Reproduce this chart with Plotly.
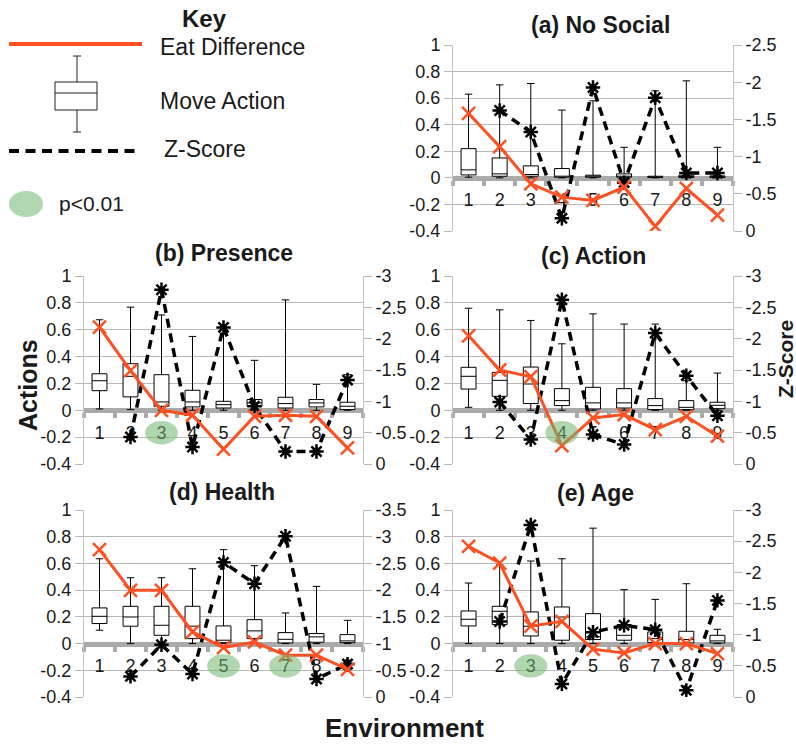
import plotly.graph_objects as go

W, H = 796, 745
FONT = "Liberation Sans, Arial, sans-serif"
TXT = "#1a1a1a"
ORANGE = "#ff5022"
GRID = "#b8b8b8"

# ---------------- data ----------------
cats = ["1", "2", "3", "4", "5", "6", "7", "8", "9"]
left_tickvals = [-0.4, -0.2, 0, 0.2, 0.4, 0.6, 0.8, 1]
left_ticktext = ["-0.4", "-0.2", "0", "0.2", "0.4", "0.6", "0.8", "1"]

# (a) No Social
eat_a = [0.485, 0.235, -0.045, -0.145, -0.17, -0.07, -0.365, -0.08, -0.28]
z_a = [None, -1.62, -1.33, -0.17, -1.93, -0.65, -1.79, -0.78, -0.78]
up_a = [0.63, 0.70, 0.71, 0.51, 0.58, 0.23, 0.655, 0.73, 0.23]
q3_a = [0.22, 0.15, 0.09, 0.07, 0.02, 0.03, 0.012, 0.02, 0.015]
med_a = [0.06, 0.03, 0.025, 0.01, 0.012, 0.012, 0.006, 0.008, 0.008]
q1_a = [0.022, 0.012, 0.012, 0.005, 0.005, 0.005, 0.003, 0.003, 0.003]
lo_a = [0.005, 0.0, 0.0, 0.0, 0.0, 0.0, 0.0, 0.0, 0.0]
sig_a = []

# (b) Presence
eat_b = [0.62, 0.295, 0.0, -0.037, -0.29, -0.045, -0.037, -0.045, -0.28]
z_b = [None, -0.43, -2.78, -0.27, -2.18, -0.92, -0.2, -0.2, -1.34]
up_b = [0.674, 0.768, 0.71, 0.55, 0.57, 0.372, 0.822, 0.193, 0.265]
q3_b = [0.272, 0.347, 0.265, 0.149, 0.067, 0.08, 0.097, 0.08, 0.06]
med_b = [0.22, 0.253, 0.062, 0.062, 0.042, 0.055, 0.05, 0.055, 0.03]
q1_b = [0.146, 0.1, 0.03, 0.025, 0.017, 0.03, 0.017, 0.025, 0.005]
lo_b = [0.01, 0.005, 0.0, 0.0, 0.0, 0.0, 0.0, 0.0, 0.0]
sig_b = ["3"]

# (c) Action
eat_c = [0.555, 0.30, 0.25, -0.263, -0.057, -0.032, -0.144, -0.045, -0.193]
z_c = [None, -0.99, -0.39, -2.62, -0.47, -0.31, -2.09, -1.41, -0.77]
up_c = [0.76, 0.748, 0.669, 0.495, 0.718, 0.642, 0.642, 0.22, 0.277]
q3_c = [0.32, 0.282, 0.322, 0.161, 0.171, 0.161, 0.087, 0.072, 0.06]
med_c = [0.253, 0.223, 0.196, 0.072, 0.055, 0.055, 0.035, 0.022, 0.037]
q1_c = [0.158, 0.104, 0.05, 0.035, 0.01, 0.017, 0.005, 0.005, 0.012]
lo_c = [0.022, 0.0, 0.0, 0.0, 0.0, 0.0, 0.0, 0.0, 0.0]
sig_c = ["4"]

# (d) Health
eat_d = [0.703, 0.399, 0.399, 0.087, -0.03, 0.012, -0.087, -0.087, -0.194]
z_d = [None, -0.386, -0.978, -0.43, -2.52, -2.12, -3.01, -0.336, -0.616]
up_d = [0.635, 0.493, 0.493, 0.56, 0.703, 0.583, 0.229, 0.428, 0.174]
q3_d = [0.267, 0.279, 0.279, 0.279, 0.132, 0.179, 0.082, 0.075, 0.067]
med_d = [0.204, 0.199, 0.137, 0.13, 0.025, 0.095, 0.032, 0.05, 0.02]
q1_d = [0.15, 0.13, 0.062, 0.037, 0.007, 0.037, 0.005, 0.01, 0.007]
lo_d = [0.1, 0.0, 0.0, 0.0, 0.0, 0.0, 0.0, 0.0, 0.0]
sig_d = ["5", "7"]

# (e) Age
eat_e = [0.728, 0.603, 0.13, 0.167, -0.042, -0.07, 0.0, 0.0, -0.075]
z_e = [None, -1.21, -2.76, -0.21, -1.04, -1.15, -1.08, -0.107, -1.55]
up_e = [0.453, 0.59, 0.618, 0.635, 0.864, 0.404, 0.331, 0.448, 0.107]
q3_e = [0.244, 0.279, 0.237, 0.274, 0.224, 0.137, 0.087, 0.092, 0.062]
med_e = [0.182, 0.242, 0.13, 0.199, 0.05, 0.062, 0.037, 0.03, 0.02]
q1_e = [0.132, 0.142, 0.057, 0.025, 0.03, 0.025, 0.007, 0.005, 0.005]
lo_e = [0.0, 0.0, 0.0, 0.0, 0.0, 0.0, 0.0, 0.0, 0.0]
sig_e = ["3"]

titles = ["(a) No Social", "(b) Presence", "(c) Action", "(d) Health", "(e) Age"]
z_axis_top = [-2.5, -3, -3, -3.5, -3]

# ---------------- layout geometry (pixels) ----------------
boxes_px = [(453, 733, 45, 231), (84, 363, 276, 464), (453, 733, 276, 464),
            (84, 363, 510, 697), (453, 733, 510, 697)]
title_pos = [(600, 25), (224, 253), (593, 256), (222, 492), (595, 493)]


def px(x):
    return x / W


def py(y):
    return 1 - y / H


panels = [
    (eat_a, z_a, up_a, q3_a, med_a, q1_a, lo_a, sig_a),
    (eat_b, z_b, up_b, q3_b, med_b, q1_b, lo_b, sig_b),
    (eat_c, z_c, up_c, q3_c, med_c, q1_c, lo_c, sig_c),
    (eat_d, z_d, up_d, q3_d, med_d, q1_d, lo_d, sig_d),
    (eat_e, z_e, up_e, q3_e, med_e, q1_e, lo_e, sig_e),
]

fig = go.Figure()
layout = {}
shapes = []
annotations = []
YMIN, YMAX = -0.4, 1.0


def axname(prefix, k):
    return prefix if k == 1 else f"{prefix}{k}"


for i, (eat, z, up, q3, med, q1, lo, sig) in enumerate(panels):
    xn = i + 1
    k1, k2, k3 = 3 * i + 1, 3 * i + 2, 3 * i + 3
    xr = axname("x", xn)
    y1, y2, y3 = axname("y", k1), axname("y", k2), axname("y", k3)
    l, r, t, b = boxes_px[i]
    dom_x = [px(l), px(r)]
    dom_y = [py(b), py(t)]
    zero_px = t + (YMAX - 0) / (YMAX - YMIN) * (b - t)

    fig.add_trace(go.Box(
        x=cats, q1=q1, median=med, q3=q3, lowerfence=lo, upperfence=up,
        xaxis=xr, yaxis=y1, fillcolor="white",
        line=dict(color="black", width=1), width=0.48, whiskerwidth=0.5,
        boxpoints=False, showlegend=False, hoverinfo="skip"))
    fig.add_trace(go.Scatter(
        x=cats, y=z, xaxis=xr, yaxis=y2, mode="lines+markers",
        line=dict(color="black", width=3.5, dash="9px,6px"),
        marker=dict(symbol="asterisk-open", size=12,
                    line=dict(color="black", width=2.5)),
        connectgaps=False, showlegend=False, hoverinfo="skip"))
    fig.add_trace(go.Scatter(
        x=cats, y=eat, xaxis=xr, yaxis=y3, mode="lines+markers",
        line=dict(color=ORANGE, width=3),
        marker=dict(symbol="x-thin-open", size=13,
                    line=dict(color=ORANGE, width=2.5)),
        showlegend=False, hoverinfo="skip"))

    layout[axname("xaxis", xn)] = dict(
        domain=dom_x, type="category", categoryorder="array", categoryarray=cats,
        anchor="free", position=py(zero_px), side="bottom",
        showline=True, linecolor="#aaaaaa", linewidth=5,
        ticks="outside", tickson="boundaries", ticklen=5, tickwidth=4,
        tickcolor="#aaaaaa", ticklabelstandoff=4, automargin=False,
        tickfont=dict(size=18, color=TXT, family=FONT),
        showgrid=False, zeroline=False, layer="below traces",
        range=[-0.5, len(cats) - 0.5])
    layout[axname("yaxis", k1)] = dict(
        domain=dom_y, anchor=xr, range=[YMIN, YMAX], automargin=False,
        tickvals=left_tickvals, ticktext=left_ticktext,
        showgrid=True, gridcolor=GRID, gridwidth=1,
        showline=True, linecolor="#c4c4c4", linewidth=1,
        ticks="outside", ticklen=8, tickcolor=GRID,
        tickfont=dict(size=18, color=TXT, family=FONT), zeroline=False)
    ztop = z_axis_top[i]
    zvals = []
    v = 0.0
    while v >= ztop - 1e-9:
        zvals.append(round(v, 1))
        v -= 0.5
    ztext = [("0" if abs(zv) < 1e-9 else (str(int(zv)) if zv == int(zv) else str(zv))) for zv in zvals]
    layout[axname("yaxis", k2)] = dict(
        domain=dom_y, anchor=xr, overlaying=y1, side="right", automargin=False,
        range=[0, ztop], tickvals=zvals, ticktext=ztext,
        showgrid=False, showline=True, linecolor="#c4c4c4", linewidth=1,
        ticks="outside", ticklen=8, tickcolor=GRID,
        tickfont=dict(size=18, color=TXT, family=FONT), zeroline=False)
    layout[axname("yaxis", k3)] = dict(
        domain=dom_y, anchor=xr, overlaying=y1, range=[YMIN, YMAX],
        visible=False, showgrid=False, zeroline=False, automargin=False)

    # significance ellipses around category labels
    for s in sig:
        idx = cats.index(s)
        shapes.append(dict(
            type="circle", xref=xr, yref=y1, x0=idx - 0.53, x1=idx + 0.53,
            y0=-0.255, y1=-0.08, fillcolor="#71b771", opacity=0.55,
            line=dict(width=0), layer="above"))

    tx, ty = title_pos[i]
    annotations.append(dict(
        text=f"<b>{titles[i]}</b>", x=px(tx), y=py(ty), xref="paper", yref="paper",
        showarrow=False, xanchor="center", yanchor="middle",
        font=dict(size=23, color=TXT, family=FONT)))

# axis titles and key heading
annotations += [
    dict(text="<b>Actions</b>", x=px(28), y=py(385), textangle=-90,
         font=dict(size=25, color=TXT, family=FONT)),
    dict(text="<b>Z-Score</b>", x=px(785), y=py(359), textangle=-90,
         font=dict(size=21, color=TXT, family=FONT)),
    dict(text="<b>Environment</b>", x=px(405), y=py(728),
         font=dict(size=26, color=TXT, family=FONT)),
    dict(text="<b>Key</b>", x=px(205), y=py(18),
         font=dict(size=24, color=TXT, family=FONT)),
]
for a in annotations[-4:]:
    a.update(xref="paper", yref="paper", showarrow=False,
             xanchor="center", yanchor="middle")

key_items = [("Eat Difference", 158, 47, 23), ("Move Action", 158, 101, 23),
             ("Z-Score", 162, 149, 23), ("p&lt;0.01", 57, 204, 21)]
for txt, kx, ky, fs in key_items:
    annotations.append(dict(
        text=txt, x=px(kx), y=py(ky), xref="paper", yref="paper",
        showarrow=False, xanchor="left", yanchor="middle",
        font=dict(size=fs, color=TXT, family=FONT)))


def pline(x0, y0, x1, y1, color, width, dash=None):
    d = dict(type="line", xref="paper", yref="paper", x0=px(x0), y0=py(y0),
             x1=px(x1), y1=py(y1), line=dict(color=color, width=width))
    if dash:
        d["line"]["dash"] = dash
    return d


# key symbols
shapes += [
    pline(9, 44, 142, 44, ORANGE, 4),
    pline(77, 56, 77, 82, "#222", 1),
    pline(77, 110, 77, 132, "#222", 1),
    pline(73, 56, 81, 56, "#222", 1),
    pline(73, 132, 81, 132, "#222", 1),
    dict(type="rect", xref="paper", yref="paper", x0=px(55), x1=px(97),
         y0=py(110), y1=py(82), line=dict(color="#222", width=1),
         fillcolor="white"),
    pline(55, 93, 97, 93, "#222", 1),
    pline(9, 151, 135, 151, "black", 4, "10px,6.5px"),
    dict(type="circle", xref="paper", yref="paper", x0=px(9), x1=px(43),
         y0=py(217), y1=py(191), fillcolor="#71b771", opacity=0.55,
         line=dict(width=0)),
]

fig.update_layout(
    width=W, height=H, margin=dict(l=0, r=0, t=0, b=0, pad=0, autoexpand=False),
    paper_bgcolor="white", plot_bgcolor="white",
    font=dict(family=FONT, color=TXT), showlegend=False,
    shapes=shapes, annotations=annotations, **layout)

fig.write_html("out.html")
